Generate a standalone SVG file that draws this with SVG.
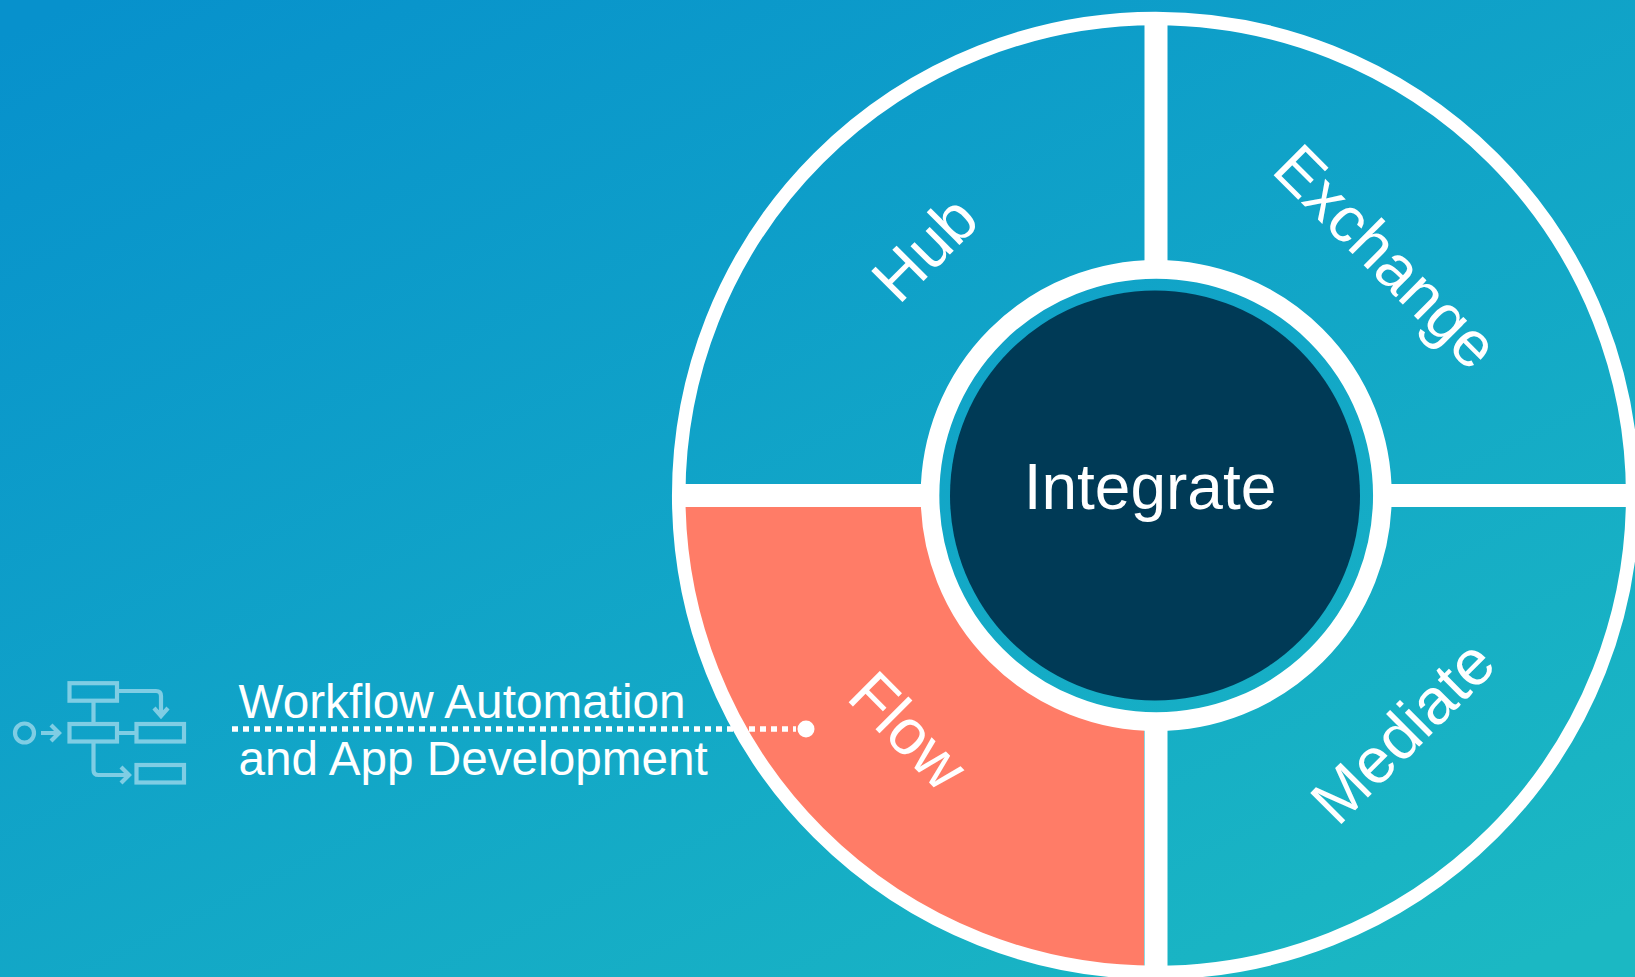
<svg xmlns="http://www.w3.org/2000/svg" width="1635" height="977" viewBox="0 0 1635 977">
<style>
text{font-family:"Liberation Sans",Arial,sans-serif;fill:#fff}
.seg{font-size:64px;text-anchor:middle}
.lab{font-size:47.7px}
.ic{fill:none;stroke:#7fcde4;stroke-width:4.200}
.div{fill:#fff}
</style>
<defs>
<linearGradient id="bg" gradientUnits="userSpaceOnUse" x1="340" y1="-130" x2="1000" y2="1220">
<stop offset="0" stop-color="#0791cc"/>
<stop offset="1" stop-color="#1bb8c3"/>
</linearGradient>
</defs>
<rect width="1635" height="977" fill="url(#bg)"/>
<g id="flow-sector"><path d="M678 507H927A228 228 0 0 0 1144 723V972A476 476 0 0 1 678 507Z" fill="#ff7c67"/></g>
<g id="wheel">
<circle cx="1155.700" cy="495.500" r="477" fill="none" stroke="#fff" stroke-width="13.500"/>
<rect class="div" x="1144.500" y="15" width="23" height="250"/>
<rect class="div" x="1144.500" y="725" width="23" height="245"/>
<rect class="div" x="675" y="484" width="250" height="23"/>
<rect class="div" x="1385" y="484" width="245" height="23"/>
<circle cx="1156.200" cy="495.500" r="226.200" fill="none" stroke="#fff" stroke-width="18.700"/>
</g>
<g id="integrate">
<circle cx="1155" cy="495.500" r="205" fill="#003a56"/>
<text x="1150" y="509" font-size="64" text-anchor="middle">Integrate</text>
</g>
<g id="hub"><text class="seg" transform="translate(924 248) rotate(-45)" y="23">Hub</text></g>
<g id="exchange"><text class="seg" transform="translate(1387 256) rotate(45)" y="23">Exchange</text></g>
<g id="mediate"><text class="seg" transform="translate(1402 731) rotate(-45)" y="23">Mediate</text></g>
<g id="flow"><text class="seg" transform="translate(909 730) rotate(45)" y="23">Flow</text></g>
<g id="workflow-label">
<text class="lab" x="238.500" y="718">Workflow Automation</text>
<text class="lab" x="238.500" y="775">and App Development</text>
</g>
<g id="connectors">
<path d="M232 729H796" fill="none" stroke="#fff" stroke-width="5.500" stroke-dasharray="6 5"/>
<circle cx="806" cy="729" r="8.500" fill="#fff"/>
</g>
<g id="workflow-icon" class="ic">
<circle cx="24.500" cy="733" r="9.500"/>
<path d="M41 733H58M51 725l8 8l-8 8"/>
<rect x="69.500" y="683.200" width="47.500" height="17.500"/>
<rect x="69.500" y="724" width="47.500" height="17.500"/>
<rect x="136.500" y="724" width="47.500" height="17.500"/>
<rect x="136.500" y="765" width="47.500" height="17.500"/>
<path d="M93.500 701V724M117 733H136.500M117 691H156q5 0 5 5V715M154 708l7 8l7-8"/>
<path d="M93.500 741.500V770q0 5 5 5H128M121 767l8 8l-8 8"/>
</g>
</svg>
